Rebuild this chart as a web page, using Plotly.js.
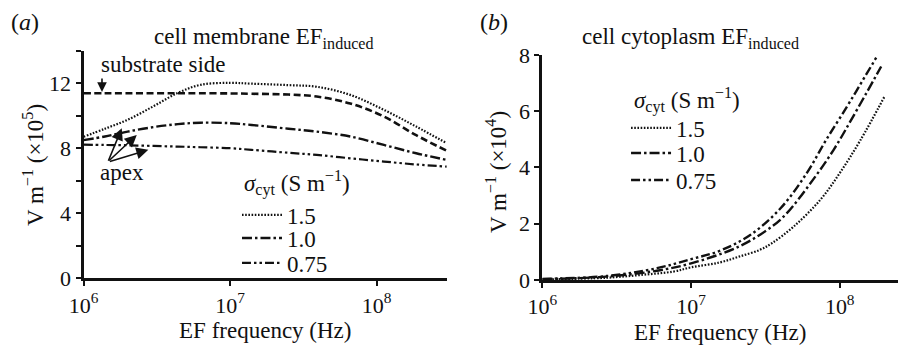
<!DOCTYPE html>
<html>
<head>
<meta charset="utf-8">
<script src="https://cdn.plot.ly/plotly-3.0.1.min.js"></script>
<style>
html,body{margin:0;padding:0;background:#fff}
#chart{width:900px;height:347px}
#chart svg text{font-family:"Liberation Serif","Times New Roman",serif !important}
</style>
</head>
<body>
<div id="chart"></div>
<script>
// ---- Panel (a): cell membrane induced field (×10^5 V/m) ----
const freqA = [1e6, 1.4e6, 2e6, 3e6, 4.4e6, 6.3e6, 1e7, 1.4e7, 2.5e7, 3.9e7, 6.6e7, 1.12e8, 1.86e8, 3e8];
const memDotted  = [8.7, 9.2, 9.75, 10.58, 11.4, 11.9, 12.02, 11.97, 11.88, 11.78, 11.28, 10.36, 9.33, 8.31];
const memDashed  = [11.38, 11.38, 11.38, 11.38, 11.38, 11.38, 11.37, 11.35, 11.3, 11.18, 10.75, 9.95, 8.8, 7.85];
const memDashDot = [8.5, 8.72, 9.02, 9.3, 9.48, 9.57, 9.54, 9.43, 9.2, 9.02, 8.72, 8.2, 7.69, 7.28];
const memDashDotDot = [8.22, 8.2, 8.18, 8.14, 8.1, 8.06, 8.0, 7.9, 7.72, 7.59, 7.38, 7.18, 7.0, 6.87];

// ---- Panel (b): cell cytoplasm induced field (×10^4 V/m) ----
const freqB15 = [1e6, 2.7e6, 4.6e6, 7.6e6, 1e7, 1.55e7, 2.1e7, 2.9e7, 3.5e7, 4.9e7, 7.4e7, 1e8, 1.38e8, 2e8];
const cyt15   = [0.02, 0.08, 0.18, 0.30, 0.45, 0.62, 0.83, 1.07, 1.31, 1.90, 2.85, 3.80, 4.98, 6.52];
const freqB10 = [1e6, 2.7e6, 5.9e6, 1e7, 2.1e7, 3.5e7, 4.4e7, 6.6e7, 9.1e7, 1.23e8, 1.9e8];
const cyt10   = [0.03, 0.12, 0.33, 0.59, 1.19, 1.9, 2.37, 3.56, 4.63, 5.81, 7.59];
const freqB075 = [1e6, 2.7e6, 5.9e6, 1e7, 1.58e7, 2.5e7, 4e7, 6e7, 8.1e7, 1.12e8, 1.41e8, 1.78e8];
const cyt075   = [0.04, 0.14, 0.42, 0.74, 1.05, 1.6, 2.55, 3.8, 4.98, 6.17, 7.05, 7.95];

const legendLabels = ['1.5', '1.0', '0.75'];
const xTickVals = [1e6, 1e7, 1e8];
const xTickText = ['10<sup>6</sup>', '10<sup>7</sup>', '10<sup>8</sup>'];
const yTickValsA = [0, 4, 8, 12];
const yTickTextA = ['0', '4', '8', '12'];
const yTickValsB = [0, 2, 4, 6, 8];
const yTickTextB = ['0', '2', '4', '6', '8'];

const FONT = 'Liberation Serif';
const K = '#111';
const dotted = '1.6px,1.6px';
const dashed = '7px,3.5px';
const dashDot = '10px,3px,2.5px,3px';
const dashDotDot = '9px,3px,2.5px,3px,2.5px,3px';

const traces = [
  {x: freqA, y: memDotted, name: legendLabels[0], legend: 'legend', xaxis: 'x', yaxis: 'y',
   mode: 'lines', line: {color: K, width: 2.2, dash: dotted, shape: 'spline'}},
  {x: freqA, y: memDashed, name: 'substrate', showlegend: false, xaxis: 'x', yaxis: 'y',
   mode: 'lines', line: {color: K, width: 2.6, dash: dashed, shape: 'spline'}},
  {x: freqA, y: memDashDot, name: legendLabels[1], legend: 'legend3', xaxis: 'x', yaxis: 'y',
   mode: 'lines', line: {color: K, width: 2.4, dash: dashDot, shape: 'spline'}},
  {x: freqA, y: memDashDotDot, name: legendLabels[2], legend: 'legend4', xaxis: 'x', yaxis: 'y',
   mode: 'lines', line: {color: K, width: 2.2, dash: dashDotDot, shape: 'spline'}},
  {x: freqB15, y: cyt15, name: legendLabels[0], legend: 'legend2', xaxis: 'x2', yaxis: 'y2',
   mode: 'lines', line: {color: K, width: 2.2, dash: dotted, shape: 'spline'}},
  {x: freqB10, y: cyt10, name: legendLabels[1], legend: 'legend5', xaxis: 'x2', yaxis: 'y2',
   mode: 'lines', line: {color: K, width: 2.4, dash: dashDot, shape: 'spline'}},
  {x: freqB075, y: cyt075, name: legendLabels[2], legend: 'legend6', xaxis: 'x2', yaxis: 'y2',
   mode: 'lines', line: {color: K, width: 2.4, dash: dashDotDot, shape: 'spline'}}
];

const axBase = {
  showline: true, linewidth: 3, linecolor: K, mirror: false,
  ticks: 'outside', ticklen: 5, tickwidth: 2, tickcolor: K,
  showgrid: false, zeroline: false, fixedrange: true,
  tickfont: {family: FONT, size: 22, color: K}
};

function leg(x, y) {
  return {x: x, y: y, xanchor: 'left', yanchor: 'middle', bgcolor: 'rgba(0,0,0,0)', borderwidth: 0,
    font: {family: FONT, size: 23, color: K}, itemwidth: 40, tracegroupgap: 0};
}
const py = px => 1 - px / 347;
const legTitle = '<i>σ</i><sub>cyt</sub> (S m<sup>−1</sup>)';

const layout = {
  width: 900, height: 347,
  margin: {l: 0, r: 0, t: 0, b: 0},
  paper_bgcolor: '#fff', plot_bgcolor: 'rgba(0,0,0,0)',
  font: {family: FONT, size: 22, color: K},
  xaxis: Object.assign({}, axBase, {
    type: 'log', range: [6, 8.48], domain: [0.0928, 0.4967], anchor: 'y',
    tickvals: xTickVals, ticktext: xTickText,
    title: {text: 'EF frequency (Hz)', font: {family: FONT, size: 23, color: K}, standoff: 6}
  }),
  yaxis: Object.assign({}, axBase, {
    range: [0, 14], domain: [0.198, 0.854], anchor: 'x',
    tickvals: yTickValsA, ticktext: yTickTextA,
    minor: {dtick: 2, tick0: 0, ticks: 'outside', ticklen: 5, tickwidth: 2, tickcolor: K, showgrid: false}
  }),
  xaxis2: Object.assign({}, axBase, {
    type: 'log', range: [6, 8.392], domain: [0.6026, 0.9978], anchor: 'y2',
    tickvals: xTickVals, ticktext: xTickText,
    title: {text: 'EF frequency (Hz)', font: {family: FONT, size: 23, color: K}, standoff: 6}
  }),
  yaxis2: Object.assign({}, axBase, {
    range: [0, 8], domain: [0.1931, 0.8415], anchor: 'x2',
    tickvals: yTickValsB, ticktext: yTickTextB
  }),
  legend: leg(0.2633, py(215)),
  legend3: leg(0.2633, py(238)),
  legend4: leg(0.2633, py(263)),
  legend2: leg(0.6956, py(128)),
  legend5: leg(0.6956, py(153)),
  legend6: leg(0.6956, py(180)),
  showlegend: true,
  annotations: [
    {text: '(<i>a</i>)', xref: 'paper', yref: 'paper', x: 25 / 900, y: py(22), xanchor: 'center', yanchor: 'middle',
     showarrow: false, font: {family: FONT, size: 24, color: K}},
    {text: '(<i>b</i>)', xref: 'paper', yref: 'paper', x: 494 / 900, y: py(22), xanchor: 'center', yanchor: 'middle',
     showarrow: false, font: {family: FONT, size: 24, color: K}},
    {text: 'cell membrane EF<sub>induced</sub>', xref: 'paper', yref: 'paper', x: 264 / 900, y: py(38),
     xanchor: 'center', yanchor: 'middle', showarrow: false, font: {family: FONT, size: 23, color: K}},
    {text: 'cell cytoplasm EF<sub>induced</sub>', xref: 'paper', yref: 'paper', x: 690 / 900, y: py(38),
     xanchor: 'center', yanchor: 'middle', showarrow: false, font: {family: FONT, size: 23, color: K}},
    {text: 'V m<sup>−1</sup> (×10<sup>5</sup>)', xref: 'paper', yref: 'paper', x: 33 / 900, y: py(165),
     xanchor: 'center', yanchor: 'middle', textangle: -90, showarrow: false, font: {family: FONT, size: 23, color: K}},
    {text: 'V m<sup>−1</sup> (×10<sup>4</sup>)', xref: 'paper', yref: 'paper', x: 496 / 900, y: py(172),
     xanchor: 'center', yanchor: 'middle', textangle: -90, showarrow: false, font: {family: FONT, size: 23, color: K}},
    {text: legTitle, xref: 'paper', yref: 'paper', x: 242 / 900, y: py(183), xanchor: 'left', yanchor: 'middle',
     showarrow: false, font: {family: FONT, size: 23, color: K}},
    {text: legTitle, xref: 'paper', yref: 'paper', x: 632 / 900, y: py(100), xanchor: 'left', yanchor: 'middle',
     showarrow: false, font: {family: FONT, size: 23, color: K}},
    {text: 'substrate side', xref: 'x', yref: 'y', x: 6.546, y: 13.13, xanchor: 'center', yanchor: 'middle',
     showarrow: false, font: {family: FONT, size: 23, color: K}},
    {text: '', xref: 'x', yref: 'y', x: 6.126, y: 11.46, showarrow: true, ax: 0, ay: -15,
     arrowhead: 2, arrowsize: 1.2, arrowwidth: 1.6, arrowcolor: K},
    {text: 'apex', xref: 'x', yref: 'y', x: 6.263, y: 6.48, xanchor: 'center', yanchor: 'middle',
     showarrow: false, font: {family: FONT, size: 23, color: K}},
    {text: '', xref: 'x', yref: 'y', x: 6.261, y: 9.23, showarrow: true, ax: -14, ay: 34,
     arrowhead: 2, arrowsize: 1.5, arrowwidth: 1.6, arrowcolor: K},
    {text: '', xref: 'x', yref: 'y', x: 6.363, y: 8.82, showarrow: true, ax: -29, ay: 27,
     arrowhead: 2, arrowsize: 1.5, arrowwidth: 1.6, arrowcolor: K},
    {text: '', xref: 'x', yref: 'y', x: 6.442, y: 7.9, showarrow: true, ax: -40, ay: 12,
     arrowhead: 2, arrowsize: 1.5, arrowwidth: 1.6, arrowcolor: K}
  ]
};

Plotly.newPlot('chart', traces, layout, {staticPlot: true, displayModeBar: false});
</script>
</body>
</html>
